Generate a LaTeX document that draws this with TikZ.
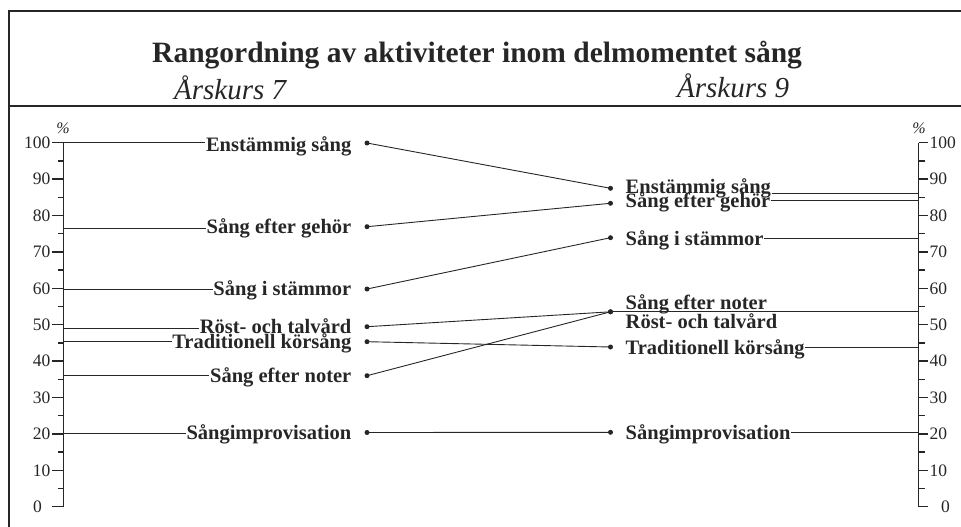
\documentclass[tikz,border=0pt]{standalone}
\usepackage{fontspec}
\setmainfont{Liberation Serif}
\begin{document}
\begin{tikzpicture}[x=1pt,y=-1pt,
  frame/.style={draw=black!85, line width=2pt, line join=miter},
  lbl/.style={font=\fontsize{20.5}{22}\selectfont\bfseries, text=black!85, inner sep=0.5pt},
  num/.style={font=\fontsize{17.5}{19}\selectfont, text=black!85, inner sep=0pt},
  pct/.style={font=\fontsize{16}{17}\selectfont\itshape, text=black!85, inner sep=0pt},
  yearlbl/.style={font=\fontsize{29}{31}\selectfont\itshape, text=black!85, anchor=base west, inner sep=0},
  dot/.style={circle, fill=black!85, inner sep=0pt, minimum size=5pt},
  link/.style={draw=black!85, line width=0.9pt},
  axisline/.style={draw=black!85, line width=1.4pt}
]
\useasboundingbox (0,0) rectangle (961,527);

% frame and heading
\draw[frame] (961,11) -- (9,11) -- (9,527);
\draw[frame] (9,106) -- (961,106);
\node[font=\fontsize{29.5}{31}\selectfont\bfseries, text=black!85, anchor=base west, inner sep=0]
  (title) at (152,63) {Rangordning av aktiviteter inom delmomentet sång};
\node[yearlbl] (yr7) at (174,99.5) {Årskurs 7};
\node[yearlbl] (yr9) at (677,97) {Årskurs 9};

% percentage axes
\coordinate (Ltop) at (63.5,{506.7-3.64*100});
\coordinate (Lbot) at (63.5,506.7);
\coordinate (Rtop) at (918.5,{506.7-3.64*100});
\coordinate (Rbot) at (918.5,506.7);
\draw[axisline] (Ltop) -- (Lbot);
\draw[axisline] (Rtop) -- (Rbot);
\foreach \v in {0,10,...,100}{
  \draw[axisline] (52,{506.7-3.64*\v}) -- (63.5,{506.7-3.64*\v});
  \draw[axisline] (918.5,{506.7-3.64*\v}) -- (928,{506.7-3.64*\v});
}
\foreach \v in {5,15,...,95}{
  \draw[axisline] (57.5,{506.7-3.64*\v}) -- (63.5,{506.7-3.64*\v});
  \draw[axisline] (918.5,{506.7-3.64*\v}) -- (924.5,{506.7-3.64*\v});
}
\foreach \v in {10,20,...,100}{
  \node[num, anchor=east] (ln\v) at (50.5,{506.7-3.64*\v}) {\v};
  \node[num, anchor=west] (rn\v) at (929.5,{506.7-3.64*\v}) {\v};
}
\node[num, anchor=east] (ln0) at (42,506.7) {0};
\node[num, anchor=west] (rn0) at (941,506.7) {0};
\node[pct] (lpct) at (63,128.5) {\%};
\node[pct] (rpct) at (919,128.5) {\%};

% year 7: labels, leaders from the axis, dots
\foreach \n/\t/\ly/\by/\dy in {
  en/Enstämmig sång/142.7/151/143,
  ge/Sång efter gehör/228.3/233.3/226.7,
  st/Sång i stämmor/289.5/295/289,
  ro/Röst- och talvård/328.3/333/326.7,
  tr/Traditionell körsång/341/348.5/341.7,
  no/Sång efter noter/375.7/382.7/375.7,
  im/Sångimprovisation/433.3/439/432.5}{
  \node[lbl, anchor=base east] (L-\n) at (352,\by) {\t};
  \coordinate (aL-\n) at (63.5,\ly);
  \draw[link] (aL-\n) -- (aL-\n -| L-\n.west);
  \node[dot] (l-\n) at (367,\dy) {};
}

% year 9: labels, leaders to the axis, dots
\foreach \n/\t/\ly/\by/\dy in {
  en/Enstämmig sång/193.8/193.3/188.3,
  ge/Sång efter gehör/200.7/207/203.3,
  st/Sång i stämmor/238/245/237.7,
  tr/Traditionell körsång/347.5/354/347,
  im/Sångimprovisation/432.3/439/432.3}{
  \node[lbl, anchor=base west] (R-\n) at (625,\by) {\t};
  \coordinate (aR-\n) at (918.5,\ly);
  \draw[link] (R-\n.east |- aR-\n) -- (aR-\n);
  \node[dot] (r-\n) at (610.5,\dy) {};
}
\node[lbl, anchor=base west] (R-no) at (625,309.5) {Sång efter noter};
\node[lbl, anchor=base west] (R-ro) at (625,328.3) {Röst- och talvård};
\node[dot] (r-no) at (610.5,311.8) {};
\node[dot] (r-ro) at (610.5,311.8) {};
\coordinate (aR-no) at (918.5,311.8);
\draw[link] (r-no.center) -- (aR-no);

% rank changes between the two years
\foreach \n in {en,ge,st,ro,tr,no,im}
  \draw[link] (l-\n.center) -- (r-\n.center);
\end{tikzpicture}
\end{document}
